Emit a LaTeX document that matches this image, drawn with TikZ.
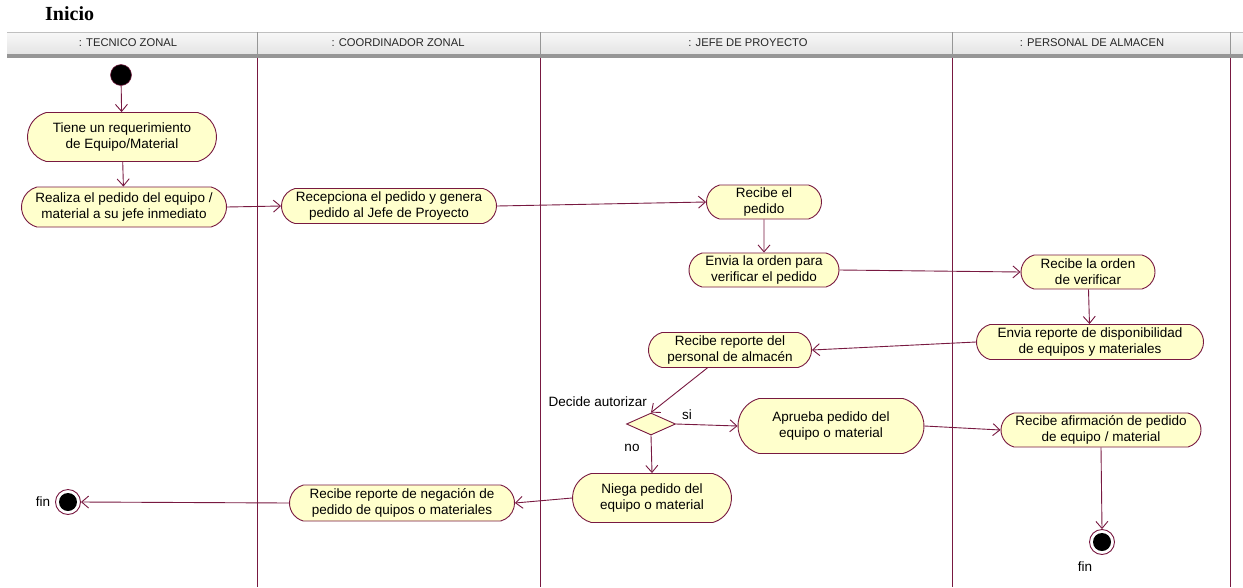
\documentclass[tikz,border=0pt]{standalone}
\usepackage{fontspec}
\setmainfont{Liberation Sans}
\newfontfamily\titlefont{Liberation Serif}
\usetikzlibrary{shapes.misc,shapes.geometric,arrows.meta}
\definecolor{ln}{RGB}{120,25,65}
\definecolor{actfill}{RGB}{255,255,204}
\definecolor{hdrtop}{RGB}{248,248,248}
\definecolor{hdrbot}{RGB}{228,228,228}
\definecolor{hdrline}{RGB}{150,150,150}
\begin{document}
\begin{tikzpicture}[x=1pt,y=-1pt,
  act/.style 2 args={rounded rectangle, rounded rectangle arc length=150,
    draw=ln, line width=0.9pt, fill=actfill, minimum width=#1pt, minimum height=#2pt,
    inner sep=1pt, align=center, font=\fontsize{13.5}{16}\selectfont, text=black},
  flow/.style={draw=ln, line width=0.9pt, -{Straight Barb[length=7pt,width=12pt]}},
  lane/.style={draw=ln, line width=1pt},
  hdr/.style={font=\fontsize{11.2}{13}\selectfont, text=black!85, inner sep=0pt},
  lbl/.style={font=\fontsize{13.5}{15}\selectfont, text=black, inner sep=0pt},
  startdot/.style={circle, fill=black, draw=ln, line width=0.5pt, minimum size=21pt, inner sep=0pt},
  endouter/.style={circle, fill=white, draw=ln, line width=0.9pt, minimum size=25pt, inner sep=0pt},
  endinner/.style={circle, fill=black, minimum size=18pt, inner sep=0pt},
  decision/.style={diamond, draw=ln, line width=0.9pt, fill=actfill, minimum width=49pt, minimum height=22pt, inner sep=0pt}
]
\useasboundingbox (0,0) rectangle (1243,587);
\fill[white] (0,0) rectangle (1243,587);

% title
\node[font=\titlefont\bfseries\fontsize{20}{24}\selectfont, anchor=base west, inner sep=0pt] (title) at (45,20) {Inicio};

% header bar
\shade[top color=hdrtop, bottom color=hdrbot] (7,32) rectangle (1243,54);
\draw[hdrline!60, line width=0.6pt] (7,32) -- (1243,32);
\fill[hdrline] (7,54) rectangle (1243,57.5);
\foreach \x in {257,540,952,1230} {
  \draw[hdrline, line width=0.9pt] (\x,32) -- (\x,54);
  \draw[lane] (\x,57.5) -- (\x,587);
}
\node[hdr] (h1) at (128,43) {: TECNICO ZONAL};
\node[hdr] (h2) at (398,43) {: COORDINADOR ZONAL};
\node[hdr] (h3) at (748,43) {: JEFE DE PROYECTO};
\node[hdr] (h4) at (1092,43) {: PERSONAL DE ALMACEN};

% nodes
\node[startdot] (start) at (121,75) {};
\node[act={191}{49}] (tiene) at (122,137) {Tiene un requerimiento\\de Equipo/Material};
\node[act={207}{40}] (realiza) at (124,207) {Realiza el pedido del equipo /\\material a su jefe inmediato};
\node[act={217}{35}] (recep) at (389,206) {Recepciona el pedido y genera\\pedido al Jefe de Proyecto};
\node[act={117}{34}] (recped) at (764,202) {Recibe el\\pedido};
\node[act={152}{34}] (envord) at (764,270) {Envia la orden para\\verificar el pedido};
\node[act={136}{34}] (record) at (1088,272) {Recibe la orden\\de verificar};
\node[act={229}{35}] (envrep) at (1090,342) {Envia reporte de disponibilidad\\de equipos y materiales};
\node[act={165}{35}] (recrep) at (730,350) {Recibe reporte del\\personal de almacén};
\node[decision] (dec) at (651,424) {};
\node[lbl, anchor=east] (declbl) at (647,402) {Decide autorizar};
\node[act={188}{55}] (aprueba) at (831,426) {Aprueba pedido del\\equipo o material};
\node[act={202}{34}] (recafi) at (1101,430) {Recibe afirmación de pedido\\de equipo / material};
\node[act={161}{49}] (niega) at (652,498) {Niega pedido del\\equipo o material};
\node[act={227}{36}] (recneg) at (402,503) {Recibe reporte de negación de\\pedido de quipos o materiales};
\node[endouter] (finL) at (68,502) {};
\node[endinner] (finLin) at (finL) {};
\node[lbl] (finLlbl) at (43,502) {fin};
\node[endouter] (finR) at (1102,542) {};
\node[endinner] (finRin) at (finR) {};
\node[lbl] (finRlbl) at (1085,567) {fin};
\node[lbl] (si) at (687,415) {si};
\node[lbl] (no) at (632,448) {no};

% connectors
\draw[flow] (start) -- (tiene);
\draw[flow] (tiene) -- (realiza);
\draw[flow] (realiza.east) -- (recep.west);
\draw[flow] (recep.east) -- (recped.west);
\draw[flow] (recped) -- (envord);
\draw[flow] (envord.east) -- (record.west);
\draw[flow] (record) -- (envrep);
\draw[flow] (envrep.west) -- (recrep.east);
\draw[flow] (recrep) -- (dec.north);
\draw[flow] (dec.east) -- (aprueba.west);
\draw[flow] (dec.south) -- (niega.north);
\draw[flow] (aprueba.east) -- (recafi.west);
\draw[flow] (recafi.south) -- (finR.north);
\draw[flow] (niega.west) -- (recneg.east);
\draw[flow] (recneg.west) -- (finL.east);
\end{tikzpicture}
\end{document}
